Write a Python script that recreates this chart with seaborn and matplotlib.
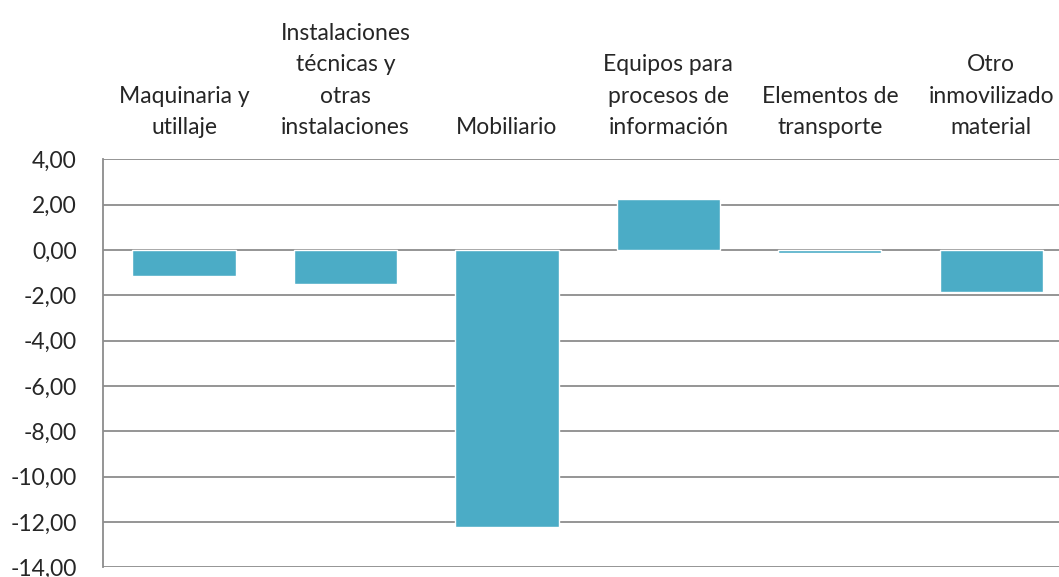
import matplotlib
matplotlib.use("Agg")
import matplotlib.pyplot as plt
import seaborn as sns
import pandas as pd
from matplotlib.ticker import FuncFormatter, MultipleLocator

# Data
categories = [
    "Maquinaria y\nutillaje",
    "Instalaciones\ntécnicas y\notras\ninstalaciones",
    "Mobiliario",
    "Equipos para\nprocesos de\ninformación",
    "Elementos de\ntransporte",
    "Otro\ninmovilizado\nmaterial",
]
values = [-1.15, -1.52, -12.21, 2.23, -0.12, -1.86]

df = pd.DataFrame({"categoria": categories, "valor": values})

sns.set_style("white")
plt.rcParams["font.family"] = ["Lato", "DejaVu Sans"]

fig = plt.figure(figsize=(10.59, 5.77), dpi=100)
# axes runs past the right edge of the figure, as in the reference
ax = fig.add_axes([103.3 / 1059, 9.7 / 577, 968.7 / 1059, 408 / 577])

sns.barplot(data=df, x="categoria", y="valor", color="#4BACC6",
            width=0.64, saturation=1, ax=ax, zorder=3)

ax.set_ylim(-14, 4)
ax.set_xlim(-0.5, 5.5)
ax.yaxis.set_major_locator(MultipleLocator(2))
ax.yaxis.set_major_formatter(FuncFormatter(lambda v, p: f"{v:.2f}".replace(".", ",")))
ax.grid(axis="y", color="#8c8c8c", linewidth=1.3, zorder=0)
ax.set_axisbelow(True)

ax.xaxis.set_ticks_position("top")
ax.tick_params(axis="x", length=0, pad=15, labelsize=16.5)
ax.tick_params(axis="y", length=0, pad=19, labelsize=16.5)
for lbl in ax.get_xticklabels():
    lbl.set_linespacing(1.62)

for side in ["top", "right", "bottom"]:
    ax.spines[side].set_visible(False)
ax.spines["left"].set_color("#8c8c8c")
ax.spines["left"].set_linewidth(1.3)

ax.set_xlabel("")
ax.set_ylabel("")

fig.savefig("out.png", dpi=100)
